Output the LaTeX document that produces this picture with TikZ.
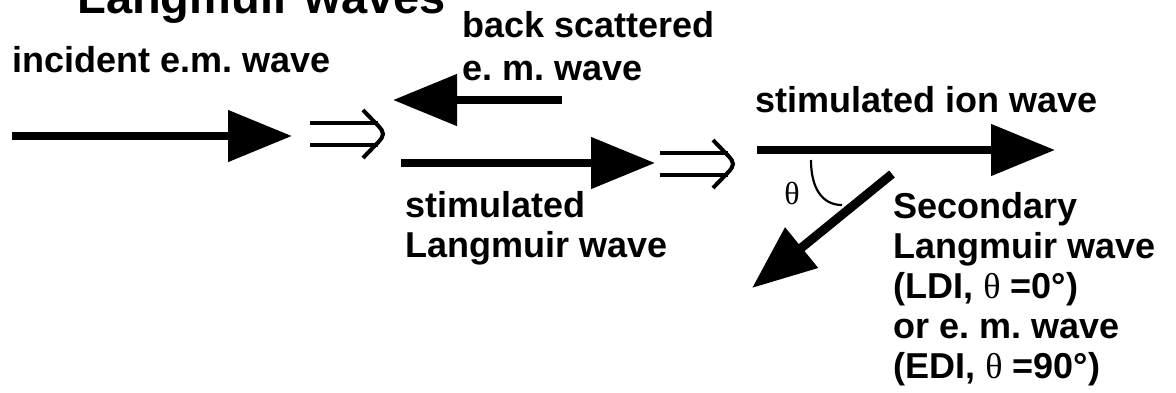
\documentclass[tikz,border=0pt]{standalone}
\usepackage{fontspec}
\setmainfont{Liberation Sans}
\newfontfamily\greekfont{Liberation Serif}
\usetikzlibrary{arrows.meta}
\frenchspacing
\tikzstyle{wave} = [line width=4pt, -{Triangle[length=32pt,width=25pt]}]
\tikzstyle{wavetext} = [anchor=base west, inner sep=0pt, align=left, font=\bfseries\fontsize{18}{20}\selectfont]
\tikzstyle{impline} = [line width=2pt]
\tikzstyle{anglearc} = [line width=1.1pt]
\newcommand{\thetaglyph}{{\greekfont\mdseries θ}}

\begin{document}
\begin{tikzpicture}[x=0.5pt, y=-0.5pt]
\tikzset{%
	dblarrow/.pic = {
		\draw[impline] (-73,-11) -- (-5,-11) (-73,11) -- (-5,11);
		\draw[impline] (-20,-24) .. controls (-7,-10) and (0,-5) .. (0,0)
								.. controls (0,5) and (-7,10) .. (-20,24);
	}
}
\useasboundingbox (0,0) rectangle (1176,392);
\clip (0,0) rectangle (1176,392);

% multi-line texts sit on the baseline of their last line
\node(Title)			[wavetext, font=\bfseries\fontsize{23.5}{26}\selectfont] at (77,13)
								{Langmuir waves};
\node(IncidentText)	[wavetext] at (12,72)
								{incident e.m. wave};
\node(BackText)		[wavetext, font=\bfseries\fontsize{18}{21.5}\selectfont] at (462,80)
								{back scattered\\e. m. wave};
\node(LangmuirText)	[wavetext] at (405,257)
								{stimulated\\Langmuir wave};
\node(IonText)			[wavetext] at (755,112)
								{stimulated ion wave};
\node(SecondaryText)	[wavetext] at (893,378)
								{Secondary\\Langmuir wave\\(LDI, \thetaglyph{} =0°)\\or e. m. wave\\(EDI, \thetaglyph{} =90°)};
\node(Theta)			[font=\greekfont\fontsize{16}{16}\selectfont, inner sep=0pt] at (792,193)
								{θ};

\coordinate (IncStart)		at (12,136);
\coordinate (IncEnd)		at (292,136);
\coordinate (BackStart)	at (562,100);
\coordinate (BackEnd)		at (393,100);
\coordinate (LangStart)	at (401,163);
\coordinate (LangEnd)		at (655,163);
\coordinate (IonStart)		at (757,150);
\coordinate (IonEnd)		at (1055,150);
\coordinate (SecStart)		at (892,174);
\coordinate (SecEnd)		at (752,288);
\coordinate (ArcStart)		at (811,160);
\coordinate (ArcEnd)		at (842,205);

\draw [wave]		(IncStart) -- (IncEnd);
\draw [wave]		(BackStart) -- (BackEnd);
\draw [wave]		(LangStart) -- (LangEnd);
\draw [wave]		(IonStart) -- (IonEnd);
\draw [wave, line width=4.5pt]	(SecStart) -- (SecEnd);

\pic (ImpA) at (383,134) {dblarrow};
\pic (ImpB) at (733,164) {dblarrow};

\draw [anglearc]	(ArcStart) .. controls (811,188) and (822,205) .. (ArcEnd);
\end{tikzpicture}
\end{document}
